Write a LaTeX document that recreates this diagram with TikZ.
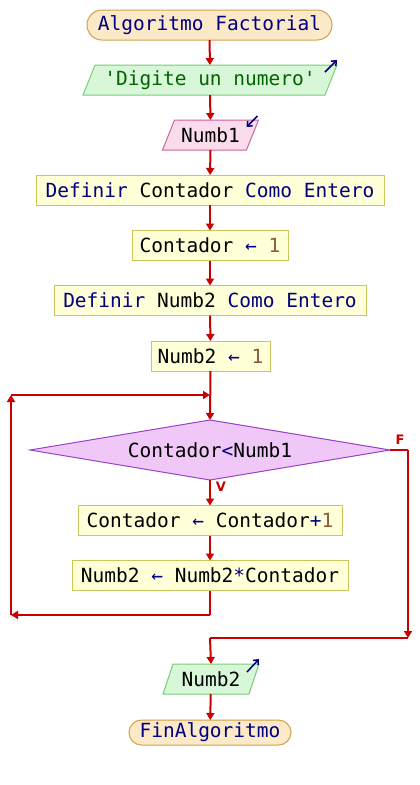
\documentclass[tikz,border=0pt]{standalone}
\usepackage{fontspec}
\setmonofont{DejaVu Sans Mono}
\setsansfont{DejaVu Sans}
\usetikzlibrary{arrows.meta,calc,backgrounds}

\definecolor{kwblue}{RGB}{0,0,128}
\definecolor{strgreen}{RGB}{0,100,0}
\definecolor{numbrown}{RGB}{140,90,60}
\definecolor{flowred}{RGB}{200,0,0}
\definecolor{termfill}{RGB}{252,233,200}
\definecolor{termline}{RGB}{212,160,76}
\definecolor{outfill}{RGB}{216,246,216}
\definecolor{outline}{RGB}{120,205,120}
\definecolor{infill}{RGB}{250,220,236}
\definecolor{inline}{RGB}{200,100,155}
\definecolor{procfill}{RGB}{255,255,216}
\definecolor{procline}{RGB}{200,200,90}
\definecolor{decfill}{RGB}{240,200,248}
\definecolor{decline}{RGB}{154,64,200}

\newcommand{\kwd}[1]{\textcolor{kwblue}{#1}}
\newcommand{\numc}[1]{\textcolor{numbrown}{#1}}
\newcommand{\asg}{\kwd{←}}

\begin{document}
\begin{tikzpicture}[x=1pt,y=-1pt,
  every node/.style={font=\ttfamily\fontsize{19.5}{23}\selectfont, inner sep=0pt, outer sep=0pt},
  term/.style={draw=termline, fill=termfill, line width=1pt},
  proc/.style={draw=procline, fill=procfill, line width=1pt, minimum height=30pt},
  plain/.style={minimum height=30pt},
  outshape/.style={draw=outline, fill=outfill, line width=1pt},
  inshape/.style={draw=inline, fill=infill, line width=1pt},
  decshape/.style={draw=decline, fill=decfill, line width=1pt},
  flow/.style={draw=flowred, line width=2pt, -{Triangle[width=8pt,length=7pt]}},
  wire/.style={draw=flowred, line width=2pt},
  icon/.style={draw=kwblue, line width=1.5pt, -{Straight Barb[length=4pt,width=7pt]}},
  lbl/.style={font=\sffamily\bfseries\fontsize{13}{15}\selectfont, text=flowred}]

\useasboundingbox (0,0) rectangle (420,785);

% terminals
\node[term, minimum width=245pt, minimum height=30pt, rounded corners=15pt] (start) at (209.5,25) {\kwd{Algoritmo Factorial}};
\node[term, minimum width=162pt, minimum height=25pt, rounded corners=12.5pt] (stop) at (210,732.5) {\kwd{FinAlgoritmo}};

% input / output text holders
\node[plain, minimum width=242pt] (ask) at (210,80) {\textcolor{strgreen}{'Digite un numero'}};
\node[plain, minimum width=84pt] (readn) at (210.5,135) {Numb1};
\node[plain, minimum width=86pt] (show) at (211,679) {Numb2};

% processes
\node[proc, minimum width=348pt] (def1) at (210,190) {\kwd{Definir} Contador \kwd{Como Entero}};
\node[proc, minimum width=156pt] (set1) at (210,245.5) {Contador \asg{} \numc{1}};
\node[proc, minimum width=312pt] (def2) at (210,300.5) {\kwd{Definir} Numb2 \kwd{Como Entero}};
\node[proc, minimum width=119pt] (set2) at (210.5,356) {Numb2 \asg{} \numc{1}};
\node[plain, minimum width=360pt, minimum height=60pt] (test) at (210,450) {Contador\kwd{<}Numb1};
\node[proc, minimum width=264pt] (inc) at (210,520.5) {Contador \asg{} Contador\kwd{+}\numc{1}};
\node[proc, minimum width=276pt] (mul) at (210,575.5) {Numb2 \asg{} Numb2\kwd{*}Contador};

% shapes drawn behind their texts
\begin{scope}[on background layer]
  \draw[outshape] ($(ask.south west)+(-6,0)$) -- ($(ask.north west)+(6,0)$) -- ($(ask.north east)+(6,0)$) -- ($(ask.south east)+(-6,0)$) -- cycle;
  \draw[inshape] ($(readn.south west)+(-6,0)$) -- ($(readn.north west)+(6,0)$) -- ($(readn.north east)+(6,0)$) -- ($(readn.south east)+(-6,0)$) -- cycle;
  \draw[outshape] ($(show.south west)+(-5,0)$) -- ($(show.north west)+(5,0)$) -- ($(show.north east)+(5,0)$) -- ($(show.south east)+(-5,0)$) -- cycle;
  \draw[decshape] (test.west) -- (test.north) -- (test.east) -- (test.south) -- cycle;
\end{scope}

% in/out marks
\draw[icon] ($(ask.north east)+(-6,7)$) -- ($(ask.north east)+(6,-5)$);
\draw[icon] ($(readn.north east)+(5,-4)$) -- ($(readn.north east)+(-6,7)$);
\draw[icon] ($(show.north east)+(-7,8)$) -- ($(show.north east)+(5,-5)$);

% main flow
\draw[flow] (start) -- (ask);
\draw[flow] (ask) -- (readn);
\draw[flow] (readn) -- (def1);
\draw[flow] (def1) -- (set1);
\draw[flow] (set1) -- (def2);
\draw[flow] (def2) -- (set2);
\draw[flow] (set2.south) -- (test.north);
\draw[flow] (test.south) -- (inc.north);
\draw[flow] (inc) -- (mul);

% loop back
\coordinate (lowturn) at (210,615);
\coordinate (lowleft) at (11,615);
\coordinate (upleft) at (11,395);
\coordinate (join) at (210,395);
\draw[wire] (mul.south) -- (lowturn);
\draw[flow] (lowturn) -- (lowleft);
\draw[flow] (lowleft) -- (upleft);
\draw[flow] (upleft) -- (join);

% exit branch
\coordinate (fright) at (408,450);
\coordinate (fdown) at (408,638);
\coordinate (fjoin) at (210,638);
\draw[wire] (test.east) -- (fright);
\draw[flow] (fright) -- (fdown);
\draw[wire] (fdown) -- (fjoin);
\draw[flow] (fjoin) -- (show.north);
\draw[flow] (show) -- (stop);

% branch labels
\node[lbl] (flabel) at (400,440) {F};
\node[lbl] (vlabel) at (221,487) {V};
\end{tikzpicture}
\end{document}
